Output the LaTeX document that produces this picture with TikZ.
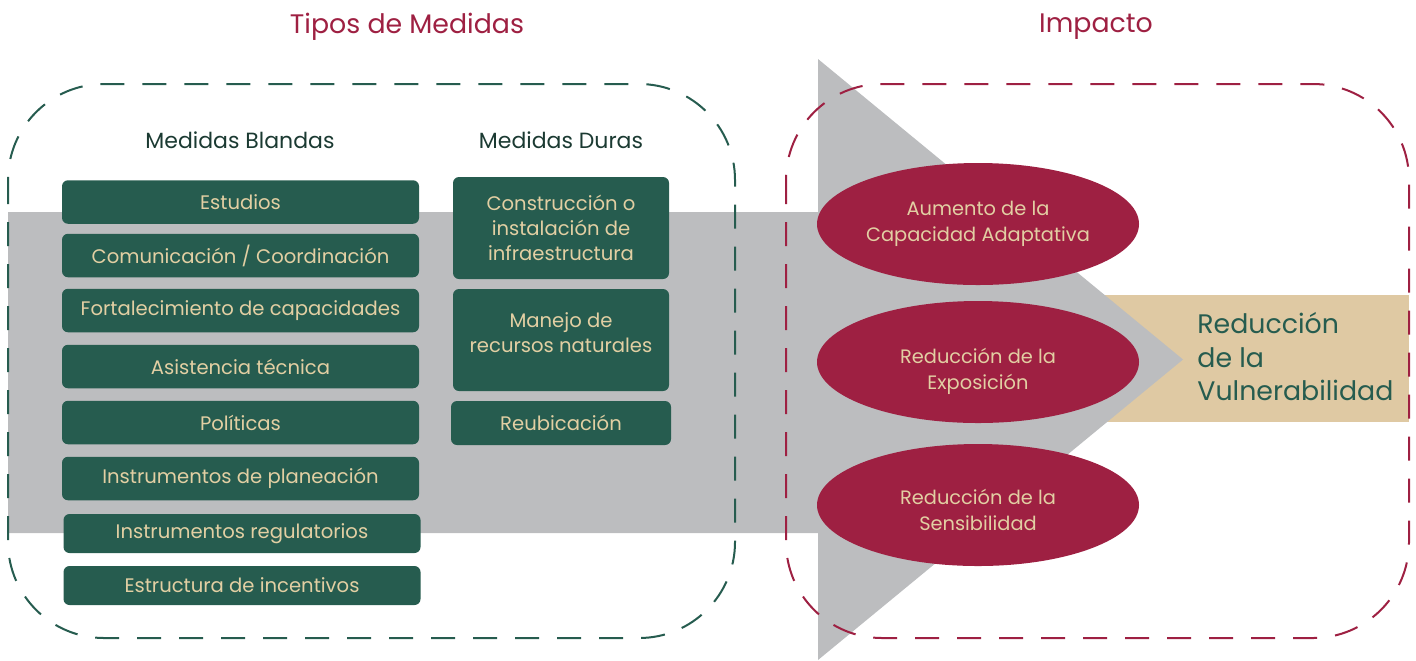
\documentclass[tikz,border=0pt]{standalone}
\usepackage{fontspec}
\setmainfont{Poppins}
\usetikzlibrary{shapes.geometric}
\definecolor{vino}{HTML}{9E2042}
\definecolor{verde}{HTML}{265C4F}
\definecolor{verdeosc}{HTML}{1B3A32}
\definecolor{arena}{HTML}{DFC9A3}
\definecolor{letra}{HTML}{E2CFA3}
\definecolor{gris}{HTML}{BCBDBF}
\tikzset{
        titulo/.style={text=vino, font=\fontsize{13.4}{16}\selectfont},
        encabezado/.style={text=verdeosc, font=\fontsize{11}{13}\selectfont},
        blanda/.style={fill=verde, text=letra, rounded corners=3pt, minimum width=178.5pt, minimum height=21.75pt, inner sep=0pt, font=\fontsize{9.8}{12}\selectfont},
        dura/.style={fill=verde, text=letra, rounded corners=3pt, minimum width=108pt, minimum height=51pt, inner sep=0pt, align=center, font=\fontsize{9.8}{12.5}\selectfont},
        impacto/.style={ellipse, fill=vino, text=letra, minimum width=161pt, minimum height=61pt, inner sep=0pt, align=center, font=\fontsize{9.7}{13}\selectfont},
        impactotxt/.style={text=letra, inner sep=0pt, align=center, font=\fontsize{9.7}{13}\selectfont},
        marco/.style={dashed, dash pattern=on 12pt off 9pt, line width=1pt, rounded corners=48pt}
          }

\begin{document}
\begin{tikzpicture}[x=0.5pt, y=-0.5pt]
  \useasboundingbox (0,0) rectangle (1416,660);
  % flecha de fondo
  \fill[arena] (1095,295) rectangle (1409,422);
  \fill[gris] (8,212) -- (818,212) -- (818,59) -- (1183,359.5) -- (818,660) -- (818,533) -- (8,533) -- cycle;
  \draw[marco, draw=verde] (8,84) rectangle (735,638);
  \draw[marco, draw=vino] (786,84) rectangle (1409,638);
  % titulos
  \node[titulo] (tipos) at (407,27) {Tipos de Medidas};
  \node[titulo] (imp) at (1096,27) {Impacto};
  \node[encabezado] (hblandas) at (240,140) {Medidas Blandas};
  \node[encabezado] (hduras) at (561,140) {Medidas Duras};
  % medidas blandas
  \node[blanda] (b1) at (240.5,202) {Estudios};
  \node[blanda] (b2) at (240.5,255.5) {Comunicación / Coordinación};
  \node[blanda] (b3) at (240.5,310.5) {Fortalecimiento de capacidades};
  \node[blanda] (b4) at (240.5,366.5) {Asistencia técnica};
  \node[blanda] (b5) at (240.5,422.5) {Políticas};
  \node[blanda] (b6) at (240.5,478.5) {Instrumentos de planeación};
  \node[blanda, minimum height=19.5pt] (b7) at (242,533.5) {Instrumentos regulatorios};
  \node[blanda, minimum height=19.5pt] (b8) at (242,585.5) {Estructura de incentivos};
  % medidas duras
  \node[dura] (d1) at (561,228) {Construcción o\\instalación de\\infraestructura};
  \node[dura] (d2) at (561,340) {Manejo de\\recursos naturales\\[-5pt]};
  \node[dura, minimum width=110pt, minimum height=22pt] (d3) at (561,423) {Reubicación};
  % impactos
  \node[impacto] (e1) at (978,224) {Aumento de la\\Capacidad Adaptativa};
  \node[impacto] (e2) at (978,362) {};
  \node[impactotxt] (e2txt) at (978,371) {Reducción de la\\Exposición};
  \node[impacto] (e3) at (978,505) {};
  \node[impactotxt] (e3txt) at (978,510) {Reducción de la\\Sensibilidad};
  \node[anchor=west, align=left, text=verde, inner sep=0pt, font=\fontsize{13.4}{16.75}\selectfont] (vuln) at (1197,357) {Reducción\\de la\\Vulnerabilidad};
\end{tikzpicture}
\end{document}
